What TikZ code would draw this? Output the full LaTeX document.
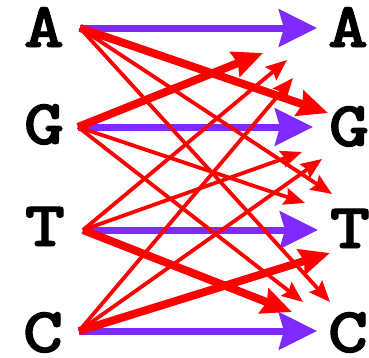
\documentclass[tikz,border=0pt]{standalone}
\usepackage{fontspec}
\newfontfamily\basefont{lmmonolt10-bold}[Extension=.otf,FakeStretch=1.2,FakeBold=1.5]
\usetikzlibrary{arrows.meta}
\definecolor{Violet}{HTML}{7F2AFF}
\definecolor{Red}{HTML}{FF0000}

\begin{document}
\begin{tikzpicture}[
  x=1pt,y=-1pt,
  base/.style={font=\basefont\fontsize{64}{64}\selectfont,inner sep=0pt,anchor=base},
  same/.style={draw=Violet,line width=7pt,-{Stealth[length=38pt,width=37pt,inset=5pt]}},
  trans/.style={draw=Red,line width=8pt,-{Stealth[length=30pt,width=26pt,inset=3pt]}},
  tvers/.style={draw=Red,line width=3.8pt,-{Stealth[length=21pt,width=17pt,inset=3pt]}}
]
  \useasboundingbox (0,0) rectangle (369,357);
  % left and right bases
  \node[base] (lA) at (44,47) {A};
  \node[base] (lG) at (44,144) {G};
  \node[base] (lT) at (45,246) {T};
  \node[base] (lC) at (43,352) {C};
  \node[base] (rA) at (348,47) {A};
  \node[base] (rG) at (349,146) {G};
  \node[base] (rT) at (350,248) {T};
  \node[base] (rC) at (348,352) {C};
  % arrow starts
  \coordinate (sA) at (80,28);
  \coordinate (sG) at (78,127);
  \coordinate (sT) at (83,230);
  \coordinate (sC) at (79,331);
  % arrow tips
  \coordinate (AA) at (317,28);
  \coordinate (GG) at (313,127);
  \coordinate (TT) at (318,230);
  \coordinate (CC) at (317,331);
  \coordinate (AG) at (328,113);
  \coordinate (AT) at (332,194);
  \coordinate (AC) at (330,302);
  \coordinate (GA) at (263,53);
  \coordinate (GT) at (305,203);
  \coordinate (GC) at (303,302);
  \coordinate (TA) at (287,60);
  \coordinate (TG) at (302,152);
  \coordinate (TC) at (292,312);
  \coordinate (CA) at (293,78);
  \coordinate (CG) at (322,159);
  \coordinate (CT) at (330,253);
  \foreach \b in {A,G,T,C}
    \draw[same] (s\b) -- (\b\b);
  \foreach \a/\b/\s in {A/T/tvers,A/C/tvers,G/T/tvers,G/C/tvers,T/A/tvers,T/G/tvers,C/A/tvers,C/G/tvers,A/G/trans,G/A/trans,T/C/trans,C/T/trans}
    \draw[\s] (s\a) -- (\a\b);
\end{tikzpicture}
\end{document}
